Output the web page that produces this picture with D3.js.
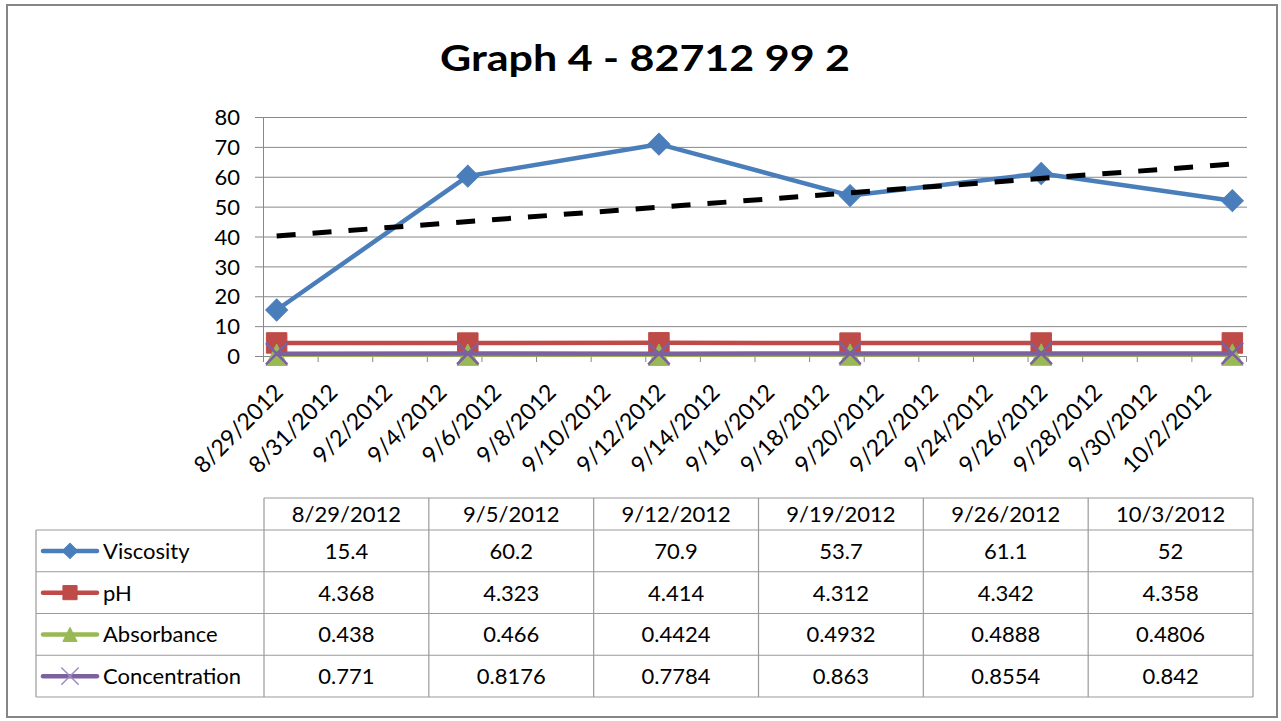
<!DOCTYPE html>
<html>
<head>
<meta charset="utf-8">
<script src="https://cdn.jsdelivr.net/npm/d3@7"></script>
<style>
  html, body { margin: 0; padding: 0; background: #fff; }
  svg { display: block; }
  text { font-family: Lato, "Open Sans", sans-serif; fill: #000; }
</style>
</head>
<body>
<svg id="chart" width="1281" height="721"></svg>
<script>
// ---------------- DATA ----------------
const title = "Graph 4 - 82712 99 2";
const categories = ["8/29/2012", "9/5/2012", "9/12/2012", "9/19/2012", "9/26/2012", "10/3/2012"];
const seriesNames = ["Viscosity", "pH", "Absorbance", "Concentration"];
const viscosity = [15.4, 60.2, 70.9, 53.7, 61.1, 52];
const pH = [4.368, 4.323, 4.414, 4.312, 4.342, 4.358];
const absorbance = [0.438, 0.466, 0.4424, 0.4932, 0.4888, 0.4806];
const concentration = [0.771, 0.8176, 0.7784, 0.863, 0.8554, 0.842];
const yTicks = [0, 10, 20, 30, 40, 50, 60, 70, 80];
const xTickLabels = ["8/29/2012", "8/31/2012", "9/2/2012", "9/4/2012", "9/6/2012", "9/8/2012",
  "9/10/2012", "9/12/2012", "9/14/2012", "9/16/2012", "9/18/2012", "9/20/2012", "9/22/2012",
  "9/24/2012", "9/26/2012", "9/28/2012", "9/30/2012", "10/2/2012"];

// ---------------- SETUP ----------------
const svg = d3.select("#chart");
const parse = d3.utcParse("%m/%d/%Y");
const dates = categories.map(parse);
const startDay = parse(xTickLabels[0]);
const endDay = d3.utcDay.offset(dates[dates.length - 1], 1);

const plot = { left: 263, right: 1246, top: 117, bottom: 356 };
const x = d3.scaleUtc().domain([startDay, endDay]).range([plot.left, plot.right]);
const y = d3.scaleLinear().domain([0, 80]).range([plot.bottom, plot.top]);
const cx = d => x(d3.utcHour.offset(d, 12));

const colors = { Viscosity: "#4a7ebb", pH: "#be4b48", Absorbance: "#98b954", Concentration: "#7d60a0" };
const gridColor = "#888888";

svg.append("rect").attr("width", 1281).attr("height", 721).attr("fill", "#fff");
// outer chart border
svg.append("rect").attr("x", 7).attr("y", 5).attr("width", 1270).attr("height", 712)
  .attr("fill", "none").attr("stroke", "#868686").attr("stroke-width", 2);

// title
svg.append("text").attr("x", 645).attr("y", 71).attr("text-anchor", "middle")
  .attr("textLength", 410).attr("lengthAdjust", "spacingAndGlyphs")
  .style("font-size", "36px").style("font-weight", "700").text(title);

// gridlines
svg.append("g").attr("transform", `translate(${plot.left},0)`)
  .call(d3.axisLeft(y).tickValues(yTicks).tickSize(-(plot.right + 1 - plot.left)).tickFormat(""))
  .call(g => g.select(".domain").remove())
  .call(g => g.selectAll("line").attr("stroke", gridColor).attr("stroke-width", 1));

// y axis
svg.append("g").attr("transform", `translate(${plot.left},0)`)
  .call(d3.axisLeft(y).tickValues(yTicks).tickSizeInner(8).tickSizeOuter(0).tickPadding(15))
  .call(g => g.select(".domain").attr("stroke", gridColor))
  .call(g => g.selectAll("line").attr("stroke", gridColor))
  .call(g => g.selectAll("text").attr("fill", "#000").style("font-size", "22px")
    .style("font-family", "Lato, sans-serif").attr("dy", "0.35em"));

// x axis (ticks at every other day boundary)
const xTickValues = d3.range(0, 19).map(i => d3.utcDay.offset(startDay, 2 * i));
svg.append("g").attr("transform", `translate(0,${plot.bottom})`)
  .call(d3.axisBottom(x).tickValues(xTickValues).tickSizeInner(6).tickSizeOuter(0).tickFormat(""))
  .call(g => g.select(".domain").attr("stroke", gridColor))
  .call(g => g.selectAll("line").attr("stroke", gridColor));

// x labels rotated
svg.append("g").selectAll("text").data(xTickLabels).join("text")
  .attr("transform", d => `translate(${cx(parse(d)) + 2},${plot.bottom + 32}) rotate(-45)`)
  .attr("text-anchor", "end").attr("dy", "0.35em")
  .style("font-size", "23px").text(d => d);

// ---------------- SERIES ----------------
// Excel-like isosceles triangle (width ~= height), centred on its bounding box
const excelTriangle = {
  draw(ctx, size) {
    const s = Math.sqrt(size);
    ctx.moveTo(0, -s / 2);
    ctx.lineTo(s / 2, s / 2);
    ctx.lineTo(-s / 2, s / 2);
    ctx.closePath();
  }
};
const seriesValues = [viscosity, pH, absorbance, concentration];
const markerSym = {
  Viscosity: { type: d3.symbolSquare, size: 240, rotate: 45, fill: true },
  pH: { type: d3.symbolSquare, size: 420, rotate: 0, fill: true },
  Absorbance: { type: excelTriangle, size: 460, rotate: 0, fill: true },
  Concentration: { type: d3.symbolX, size: 300, rotate: 0, fill: false }
};
const line = d3.line().x(d => cx(d.date)).y(d => y(d.v));

seriesNames.forEach((name, si) => {
  const pts = dates.map((d, i) => ({ date: d, v: seriesValues[si][i] }));
  const g = svg.append("g");
  g.append("path").datum(pts).attr("d", line).attr("fill", "none")
    .attr("stroke", colors[name]).attr("stroke-width", 4.5).attr("stroke-linejoin", "round");
  const m = markerSym[name];
  g.selectAll("path.m").data(pts).join("path").attr("class", "m")
    .attr("d", d3.symbol(m.type, m.size))
    .attr("transform", d => `translate(${cx(d.date)},${y(d.v)}) rotate(${m.rotate})`)
    .attr("fill", m.fill ? colors[name] : "none")
    .attr("stroke", colors[name]).attr("stroke-width", m.fill ? 1 : 2.5);
});

// linear trendline of viscosity (least squares over day index)
const dayIdx = dates.map(d => d3.utcDay.count(dates[0], d));
const mx = d3.mean(dayIdx), my = d3.mean(viscosity);
const slope = d3.sum(dayIdx.map((xi, i) => (xi - mx) * (viscosity[i] - my))) /
              d3.sum(dayIdx.map(xi => (xi - mx) * (xi - mx)));
const intercept = my - slope * mx;
const trendPts = [dates[0], dates[dates.length - 1]].map(d => ({ date: d, v: intercept + slope * d3.utcDay.count(dates[0], d) }));
svg.append("path").datum(trendPts).attr("d", line).attr("fill", "none")
  .attr("stroke", "#000").attr("stroke-width", 5).attr("stroke-dasharray", "19,17");

// ---------------- DATA TABLE ----------------
const table = { left: 36, colStart: 264, right: 1253, top: 498, headerBottom: 530, rowH: 41.75 };
const colW = (table.right - table.colStart) / categories.length;
const tg = svg.append("g");
const borderColor = "#9a9a9a";
const rowsBottom = table.headerBottom + table.rowH * seriesNames.length;

// horizontal lines
tg.append("line").attr("x1", table.colStart).attr("x2", table.right).attr("y1", table.top).attr("y2", table.top);
d3.range(0, seriesNames.length + 1).forEach(i => {
  const yy = table.headerBottom + i * table.rowH;
  tg.append("line").attr("x1", table.left).attr("x2", table.right).attr("y1", yy).attr("y2", yy);
});
// vertical lines
tg.append("line").attr("x1", table.left).attr("x2", table.left).attr("y1", table.headerBottom).attr("y2", rowsBottom);
d3.range(0, categories.length + 1).forEach(i => {
  const xx = table.colStart + i * colW;
  tg.append("line").attr("x1", xx).attr("x2", xx).attr("y1", table.top).attr("y2", rowsBottom);
});
tg.selectAll("line").attr("stroke", borderColor).attr("stroke-width", 1.2);

// header
tg.selectAll("text.h").data(categories).join("text").attr("class", "h")
  .attr("x", (d, i) => table.colStart + (i + 0.5) * colW)
  .attr("y", (table.top + table.headerBottom) / 2).attr("dy", "0.36em")
  .attr("text-anchor", "middle").style("font-size", "22px").text(d => d);

// rows
const keySize = { Viscosity: 120, pH: 200, Absorbance: 200, Concentration: 200 };
seriesNames.forEach((name, si) => {
  const ym = table.headerBottom + (si + 0.5) * table.rowH;
  // legend key
  tg.append("line").attr("x1", 43).attr("x2", 97).attr("y1", ym).attr("y2", ym)
    .attr("stroke", colors[name]).attr("stroke-width", 4.5).attr("stroke-linecap", "round");
  const m = markerSym[name];
  tg.append("path").attr("d", d3.symbol(m.type, keySize[name]))
    .attr("transform", `translate(70,${ym}) rotate(${m.rotate})`)
    .attr("fill", m.fill ? colors[name] : "none")
    .attr("stroke", name === "Concentration" ? "#a08cc0" : colors[name]).attr("stroke-width", m.fill ? 1 : 1.5);
  tg.append("text").attr("x", 103).attr("y", ym).attr("dy", "0.36em")
    .style("font-size", "22px").text(name);
  tg.selectAll(null).data(seriesValues[si]).join("text")
    .attr("x", (d, i) => table.colStart + (i + 0.5) * colW)
    .attr("y", ym).attr("dy", "0.36em").attr("text-anchor", "middle")
    .style("font-size", "22px").text(d => String(d));
});
</script>
</body>
</html>
